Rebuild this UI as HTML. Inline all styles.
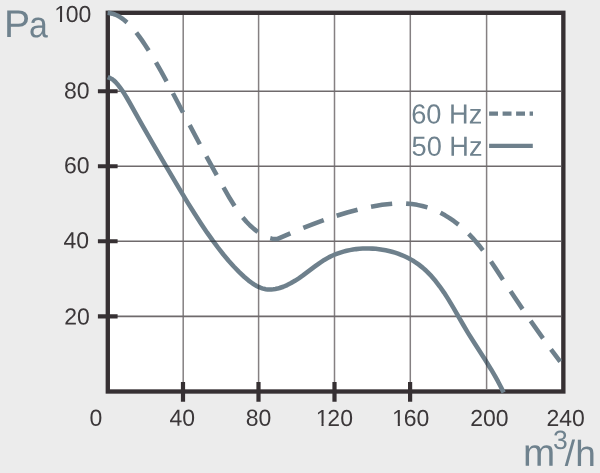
<!DOCTYPE html>
<html><head><meta charset="utf-8"><title>Pa / m3/h chart</title>
<style>
html,body{margin:0;padding:0;background:#ececec;}
body{width:600px;height:473px;overflow:hidden;}
svg{display:block;font-family:"Liberation Sans",Arial,Helvetica,sans-serif;}
.t{opacity:0.999;text-rendering:geometricPrecision;}
</style></head><body>
<svg width="600" height="473" viewBox="0 0 600 473" xmlns="http://www.w3.org/2000/svg">
<rect width="600" height="473" fill="#ececec"/>
<rect x="107.8" y="12.8" width="455.55" height="378.7" fill="#fff"/>
<rect x="107.8" y="12.8" width="455.55" height="378.7" fill="none" stroke="#363033" stroke-width="4.35"/>
<path d="M183.2 14.975000000000001V389.325M258.6 14.975000000000001V389.325M334.5 14.975000000000001V389.325M410.3 14.975000000000001V389.325M486.6 14.975000000000001V389.325" stroke="#858082" stroke-width="1.5" fill="none"/>
<path d="M109.975 91.3H561.1750000000001M109.975 166.2H561.1750000000001M109.975 241.3H561.1750000000001M109.975 316.4H561.1750000000001" stroke="#6f6a6c" stroke-width="1.6" fill="none"/>
<path d="M97.9 91.3H117.6M97.9 166.2H117.6M97.9 241.3H117.6M97.9 316.4H117.6" stroke="#363033" stroke-width="4.1" fill="none"/>
<path d="M183.0 382V401.8M258.5 382V401.8M334.5 382V401.8M410.1 382V401.8" stroke="#363033" stroke-width="4.2" fill="none"/>
<path d="M107.73 77.06L109.81 77.88 111.71 78.93 113.57 80.28 115.49 82.02 117.44 84.16 119.53 86.81 121.85 90.03 124.22 93.59 126.48 97.25 128.96 101.48 141.36 123.63 152.72 143.44 164.51 163.63 179.86 189.60 187.69 202.58 194.51 213.55 200.93 223.50 207.11 232.66 212.62 240.42 218.02 247.67 223.39 254.49 228.60 260.71 233.79 266.48 239.00 271.85 244.12 276.73 248.60 280.55 252.65 283.53 254.67 284.83 256.58 285.92 258.53 286.90 260.36 287.69 262.22 288.35 263.96 288.83 265.72 289.19 267.63 289.43 269.42 289.52 271.35 289.49 273.30 289.32 275.39 289.02 277.48 288.58 279.57 288.02 283.32 286.73 287.17 285.06 291.10 283.05 295.33 280.57 298.78 278.32 302.62 275.63 314.93 266.37 319.54 263.04 324.26 259.95 328.78 257.38 331.50 256.03 334.43 254.73 337.29 253.61 340.34 252.56 343.44 251.62 346.59 250.81 349.78 250.12 353.01 249.55 356.12 249.12 359.39 248.78 362.69 248.56 366.00 248.46 369.16 248.48 372.48 248.61 375.79 248.85 379.09 249.21 382.36 249.68 385.62 250.27 388.85 250.98 391.89 251.75 395.04 252.68 398.01 253.66 401.06 254.80 403.92 256.00 406.59 257.22 409.07 258.48 411.62 259.88 413.98 261.30 416.28 262.80 418.52 264.38 422.90 267.85 425.05 269.75 427.25 271.82 431.45 276.18 435.60 281.04 439.79 286.51 444.03 292.58 448.38 299.37 453.03 307.11 463.34 324.99 467.98 332.79 473.43 341.52 485.76 360.76 491.12 369.44 494.76 375.64 498.00 381.46 500.90 387.03 503.62 392.62" fill="none" stroke="#6e808c" stroke-width="4.55" stroke-linecap="butt" stroke-linejoin="round"/>
<mask id="cm" maskUnits="userSpaceOnUse" x="0" y="0" width="600" height="473"><path d="M107.73 77.06L109.81 77.88 111.71 78.93 113.57 80.28 115.49 82.02 117.44 84.16 119.53 86.81 121.85 90.03 124.22 93.59 126.48 97.25 128.96 101.48 141.36 123.63 152.72 143.44 164.51 163.63 179.86 189.60 187.69 202.58 194.51 213.55 200.93 223.50 207.11 232.66 212.62 240.42 218.02 247.67 223.39 254.49 228.60 260.71 233.79 266.48 239.00 271.85 244.12 276.73 248.60 280.55 252.65 283.53 254.67 284.83 256.58 285.92 258.53 286.90 260.36 287.69 262.22 288.35 263.96 288.83 265.72 289.19 267.63 289.43 269.42 289.52 271.35 289.49 273.30 289.32 275.39 289.02 277.48 288.58 279.57 288.02 283.32 286.73 287.17 285.06 291.10 283.05 295.33 280.57 298.78 278.32 302.62 275.63 314.93 266.37 319.54 263.04 324.26 259.95 328.78 257.38 331.50 256.03 334.43 254.73 337.29 253.61 340.34 252.56 343.44 251.62 346.59 250.81 349.78 250.12 353.01 249.55 356.12 249.12 359.39 248.78 362.69 248.56 366.00 248.46 369.16 248.48 372.48 248.61 375.79 248.85 379.09 249.21 382.36 249.68 385.62 250.27 388.85 250.98 391.89 251.75 395.04 252.68 398.01 253.66 401.06 254.80 403.92 256.00 406.59 257.22 409.07 258.48 411.62 259.88 413.98 261.30 416.28 262.80 418.52 264.38 422.90 267.85 425.05 269.75 427.25 271.82 431.45 276.18 435.60 281.04 439.79 286.51 444.03 292.58 448.38 299.37 453.03 307.11 463.34 324.99 467.98 332.79 473.43 341.52 485.76 360.76 491.12 369.44 494.76 375.64 498.00 381.46 500.90 387.03 503.62 392.62" fill="none" stroke="#fff" stroke-width="4.55"/></mask>
<g style="mix-blend-mode:multiply" opacity="0.75" fill="none" mask="url(#cm)"><path d="M258.6 276V297M486.6 350V373" stroke="#858082" stroke-width="1.5"/><path d="M150 166.2H176M198 241.3H225" stroke="#6f6a6c" stroke-width="1.6"/></g>
<path d="M107.61 12.86L110.09 13.16 112.46 13.69 114.85 14.48 117.24 15.53 119.63 16.83 122.01 18.39 124.47 20.25 127.01 22.41M136.32 32.56L138.97 36.06 141.87 40.14 145.26 45.17 148.68 50.45M155.98 62.42L161.11 71.37 166.57 81.30M172.92 93.23L183.02 112.47M189.68 125.10L199.85 144.20M206.38 156.33L216.71 175.18M223.51 187.38L229.61 198.02 234.53 205.98M242.77 217.44L246.44 221.71 250.09 225.49 253.89 228.92 257.85 232.00M270.24 238.22L272.04 238.63 273.90 238.91 275.68 239.06 277.50 239.07 277.62 238.90 290.37 233.31M303.33 227.91L313.69 223.83 323.73 220.13M336.64 215.76L347.22 212.55 357.54 209.76M371.03 206.68L376.67 205.64 382.04 204.82 387.25 204.19 392.17 203.76M406.11 203.63L411.79 204.10 417.12 204.87 422.40 205.97 427.47 207.39M440.48 212.81L445.08 215.34 449.57 218.13 454.05 221.24 458.51 224.66M468.71 233.85L472.27 237.55 475.77 241.46 479.32 245.71 482.90 250.28M490.96 261.49L495.73 268.61 502.95 279.68M510.60 291.32L522.57 309.13M530.62 320.83L543.02 338.37M550.98 349.30L560.21 361.70" fill="none" stroke="#6e808c" stroke-width="4.55" stroke-linecap="butt" stroke-linejoin="round"/>
<line x1="489.1" y1="113.6" x2="533" y2="113.6" stroke="#6e808c" stroke-width="4.4" stroke-dasharray="8.9 4.6"/>
<line x1="489.1" y1="145.9" x2="532.8" y2="145.9" stroke="#6e808c" stroke-width="4.2"/>
<g class="t"><text transform="translate(53.02 22.07) rotate(0.05) scale(1.0000 1.0100)" font-size="23.0" fill="#3b3739"><tspan dx="1.2">1</tspan><tspan dx="-1.2">00</tspan></text><text transform="translate(63.91 98.50) rotate(0.05) scale(1.0000 1.0100)" font-size="23.0" fill="#3b3739">80</text><text transform="translate(63.95 173.20) rotate(0.05) scale(1.0000 1.0100)" font-size="23.0" fill="#3b3739">60</text><text transform="translate(63.54 248.20) rotate(0.05) scale(1.0000 1.0100)" font-size="23.0" fill="#3b3739">40</text><text transform="translate(64.15 324.45) rotate(0.05) scale(1.0000 1.0100)" font-size="23.0" fill="#3b3739">20</text><text transform="translate(89.60 425.75) rotate(0.05) scale(1.0000 1.0100)" font-size="23.0" fill="#3b3739">0</text><text transform="translate(169.54 425.80) rotate(0.05) scale(1.0000 1.0100)" font-size="23.0" fill="#3b3739">40</text><text transform="translate(245.66 425.85) rotate(0.05) scale(1.0000 1.0100)" font-size="23.0" fill="#3b3739">80</text><text transform="translate(314.54 425.90) rotate(0.05) scale(1.0000 1.0100)" font-size="23.0" fill="#3b3739"><tspan dx="1.2">1</tspan><tspan dx="-1.2">20</tspan></text><text transform="translate(390.86 425.90) rotate(0.05) scale(1.0000 1.0100)" font-size="23.0" fill="#3b3739"><tspan dx="1.2">1</tspan><tspan dx="-1.2">60</tspan></text><text transform="translate(470.28 425.90) rotate(0.05) scale(1.0000 1.0100)" font-size="23.0" fill="#3b3739">200</text><text transform="translate(546.41 425.90) rotate(0.05) scale(1.0000 1.0100)" font-size="23.0" fill="#3b3739">240</text><text transform="translate(411.21 123.49) rotate(0.05) scale(1.0000 1.0130)" font-size="27.2" fill="#6f828e">60 Hz</text><text transform="translate(411.56 155.69) rotate(0.05) scale(1.0000 1.0130)" font-size="27.2" fill="#6f828e">50 Hz</text><text transform="translate(3.89 37.00) rotate(0.05) scale(1.0562 1.0410)" font-size="37" fill="#6f828e">P</text><text transform="translate(28.96 37.24) rotate(0.05) scale(0.9155 0.9916)" font-size="37" fill="#6f828e">a</text><text transform="translate(523.05 465.64) rotate(0.05) scale(1.0300 1.0200)" font-size="37.5" fill="#6f828e">m</text><text transform="translate(553.06 448.92) rotate(0.05) scale(1.0000 1.0000)" font-size="26.5" fill="#6f828e">3</text><text transform="translate(564.86 465.76) rotate(0.05) scale(1.0000 0.9800)" font-size="37" fill="#6f828e">/</text><text transform="translate(575.20 465.94) rotate(0.05) scale(1.0000 0.9800)" font-size="37" fill="#6f828e">h</text></g>
<path d="M54.97 19.74H59.95V22.87H54.97ZM62.08 19.74H66.89V22.87H62.08Z" fill="#ececec"/><path d="M316.49 423.56H321.47V426.70H316.49ZM323.60 423.56H328.41V426.70H323.60Z" fill="#ececec"/><path d="M392.81 423.56H397.79V426.70H392.81ZM399.92 423.56H404.73V426.70H399.92Z" fill="#ececec"/>
</svg>
</body></html>
